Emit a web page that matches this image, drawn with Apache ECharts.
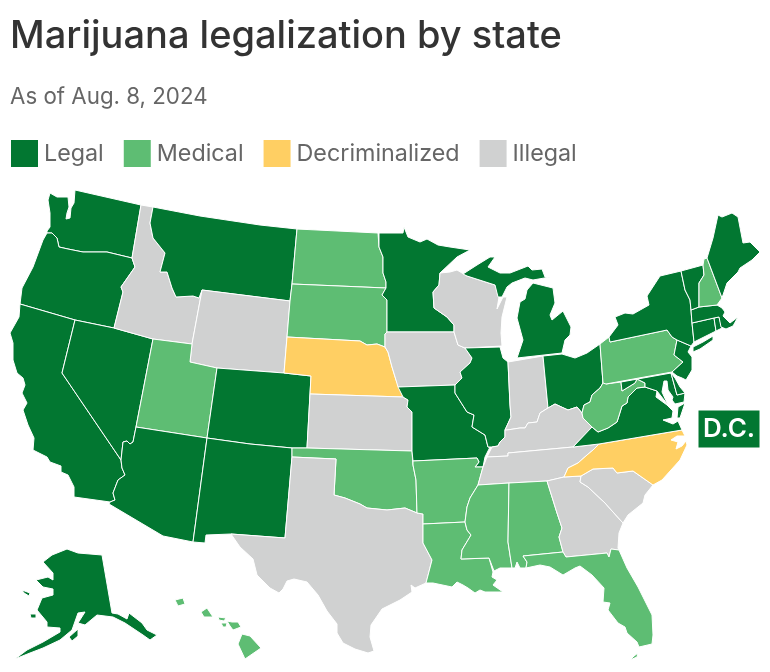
<!DOCTYPE html>
<html lang="en">
<head>
<meta charset="UTF-8">
<title>Marijuana legalization by state</title>
<script src="https://cdn.jsdelivr.net/npm/echarts@6/dist/echarts.min.js"></script>
<style>
  html, body { margin: 0; padding: 0; background: #fff; }
  #chart { width: 770px; height: 672px; }
</style>
</head>
<body>
<div id="chart"></div>
<script>
// status of each state
var legalStates = ['AK','AZ','CA','CO','CT','DE','IL','ME','MD','MA','MI','MN','MO','MT','NV','NJ','NM','NY','OH','OR','RI','VT','VA','WA','D.C.'];
var medicalStates = ['AL','AR','FL','HI','LA','MS','NH','ND','OK','PA','SD','UT','WV'];
var decrimStates = ['NE','NC'];
var illegalStates = ['GA','ID','IN','IA','KS','KY','SC','TN','TX','WI','WY'];
var statusLabels = ['Legal','Medical','Decriminalized','Illegal'];
var statusColors = ['#027731','#5ebd73','#ffcf63','#d0d1d1'];

// state outlines traced on a 770x672 sheet, "x,y" pairs, one string per part
var outlines = {
  WA: ['50,193 57,197 68,197 69,207 67,213 66,219 70,218 71,208 74,203 75,190 141,205 132,258 107,252 83,252 68,249 59,247 57,238 52,233 47,233 47,231 50,227 50,213 48,200'],
  OR: ['47,233 52,233 57,238 59,247 68,249 83,252 107,252 132,258 135,267 121,287 123,292 114,328 75,320 20,304 22,288 33,267 43,240'],
  CA: ['20,304 75,320 62,373 121,460 122,468 125,475 118,480 113,493 115,500 110,502 74,497 74,487 68,475 61,472 61,466 50,462 47,457 33,450 34,438 28,425 23,410 27,403 22,393 25,385 23,378 17,373 13,360 13,343 10,333 19,317'],
  NV: ['75,320 114,328 153,339 136,427 133,442 130,444 127,441 123,442 121,460 62,373'],
  ID: ['141,205 153,207 150,223 153,238 165,253 160,272 167,272 172,288 176,297 193,296 199,298 202,290 192,344 153,339 114,328 123,292 121,287 135,267 132,258'],
  MT: ['153,207 200,216 260,225 297,229 292,284 290,301 202,290 199,298 193,296 176,297 172,288 167,272 160,272 165,253 153,238 150,223'],
  WY: ['202,290 290,301 287,337 284,373 217,368 190,362 192,344'],
  UT: ['153,339 192,344 190,362 217,368 207,438 136,427'],
  CO: ['217,368 284,373 311,376 310,394 307,448 292,448 250,444 207,438'],
  AZ: ['136,427 207,438 193,542 163,536 109,504 110,502 115,500 113,493 118,480 125,475 122,468 121,460 123,442 127,441 130,444 133,442'],
  NM: ['207,438 250,444 292,448 292,457 285,538 231,534 206,535 205,543 193,542'],
  ND: ['297,229 378,233 379,247 383,257 383,273 386,282 386,288 292,284'],
  SD: ['292,284 386,288 382,295 387,300 387,332 385,334 385,347 377,344 367,345 360,341 287,337 290,301'],
  NE: ['287,337 360,341 367,345 377,344 385,347 388,352 392,367 396,380 403,397 310,394 311,376 284,373'],
  KS: ['310,394 403,397 408,400 407,407 412,412 412,451 307,448'],
  OK: ['292,448 307,448 412,451 413,465 416,480 417,513 405,508 387,510 367,508 360,504 345,498 334,495 336,459 292,457'],
  TX: ['292,457 336,459 334,495 345,498 360,504 367,508 387,510 405,508 417,513 423,514 423,543 432,560 426,583 415,588 411,585 412,592 400,600 382,609 371,625 370,637 374,651 368,653 355,649 343,643 337,633 337,624 327,611 318,595 307,582 294,579 287,581 283,589 279,593 270,588 257,575 253,559 240,547 231,534 285,538'],
  MN: ['379,233 403,233 404,227 408,237 420,242 427,239 438,245 450,247 470,250 457,257 440,273 439,285 433,292 434,308 447,317 454,325 454,332 387,332 387,300 382,295 386,288 386,282 383,273 383,257 379,247'],
  IA: ['387,332 454,332 458,345 465,348 472,358 470,363 460,372 462,378 455,385 398,387 396,380 392,367 388,352 385,347 385,334'],
  MO: ['398,387 455,385 455,393 467,412 474,415 472,427 485,435 488,447 490,447 485,457 483,467 475,467 479,462 477,458 413,461 412,451 412,412 407,407 408,400 403,397'],
  AR: ['413,461 477,458 479,462 475,467 483,467 478,485 470,498 467,507 465,522 423,524 423,514 417,513 416,480 413,465'],
  LA: ['423,524 465,522 467,530 471,535 462,550 461,559 489,558 493,572 492,577 497,580 493,585 503,592 485,592 480,590 475,593 468,588 463,585 457,582 452,587 433,583 426,583 432,560 423,543'],
  WI: ['440,273 450,272 457,270 467,276 495,285 499,297 497,309 503,297 507,297 502,317 501,333 502,346 465,348 458,345 454,332 454,325 447,317 434,308 433,292 439,285'],
  IL: ['465,348 500,347 503,358 508,362 510,405 511,417 505,430 505,437 500,442 498,446 492,447 488,447 485,435 472,427 474,415 467,412 455,393 455,385 462,378 460,372 470,363 472,358'],
  IN: ['508,362 543,356 548,408 540,413 537,422 528,423 525,428 520,428 507,430 505,430 511,417 510,405'],
  MI: ['463,274 477,265 490,257 495,257 488,267 500,273 510,273 528,266 532,270 542,269 545,277 550,277 533,280 525,278 512,283 507,287 502,297 498,297 495,285 467,276',
       '533,283 553,288 555,303 550,315 552,320 563,311 571,327 570,335 565,340 562,353 517,358 523,340 517,318 520,302 525,299 527,290'],
  OH: ['543,356 562,354 575,358 587,353 600,344 603,383 600,388 592,395 590,402 584,405 582,413 577,407 568,410 555,404 548,408'],
  KY: ['548,408 555,404 568,410 577,407 582,413 583,418 592,427 573,447 508,453 508,456 487,457 492,447 498,446 500,442 505,437 505,430 507,430 520,428 525,428 528,423 537,422 540,413'],
  TN: ['487,457 508,456 508,453 573,447 599,444 593,450 587,455 578,463 568,468 564,477 547,481 509,483 478,485 483,467'],
  MS: ['478,485 509,483 508,542 512,568 500,568 494,571 493,572 489,558 461,559 462,550 471,535 467,530 465,522 467,507 470,498'],
  AL: ['509,483 547,481 557,513 562,528 559,537 563,552 523,556 527,562 526,568 520,568 517,562 515,568 512,568 508,542'],
  GA: ['547,481 564,477 581,476 580,482 588,487 605,503 613,512 623,523 619,533 618,548 619,550 611,549 609,557 607,553 566,557 563,552 559,537 562,528 557,513'],
  FL: ['523,556 563,552 566,557 607,553 609,557 611,549 619,550 627,568 638,587 652,615 653,635 652,644 639,647 637,642 627,633 625,627 618,623 608,610 610,603 603,602 604,588 592,575 580,566 575,568 563,575 550,567 540,565 526,568 527,562',
       '630,660 634,656 638,653 637,657'],
  SC: ['581,476 593,469 613,468 617,473 633,471 653,485 645,495 643,503 628,515 623,523 613,512 605,503 588,487 580,482'],
  NC: ['564,477 568,468 578,463 587,455 593,450 599,444 682,430 685,436 677,436 671,440 678,442 676,449 682,446 686,441 687,445 680,460 662,480 653,485 633,471 617,473 613,468 593,469 581,476'],
  VA: ['573,447 592,427 598,432 608,428 617,422 622,406 627,403 628,397 637,388 645,387 657,391 656,397 667,405 673,411 672,418 663,420 673,424 678,421 682,430 599,444',
       '685,403 680,418 677,418 678,407'],
  WV: ['603,383 604,371 606,384 621,382 622,391 635,383 637,379 645,383 645,387 637,388 628,397 627,403 622,406 617,422 608,428 598,432 592,427 583,418 582,413 584,405 590,402 592,395 600,388'],
  MD: ['621,382 671,373 677,395 685,393 684,402 675,404 672,400 673,397 668,390 667,381 664,381 662,392 668,405 657,391 645,387 645,383 637,379 635,383 622,391'],
  DE: ['671,373 675,378 680,387 685,393 677,395'],
  PA: ['600,344 609,337 610,342 667,330 672,337 677,340 674,355 683,362 672,372 671,373 606,384 603,383'],
  NJ: ['677,340 691,346 688,352 692,357 692,370 686,380 682,378 677,376 672,372 683,362 674,355'],
  NY: ['610,342 609,337 618,325 615,317 625,313 633,314 649,305 647,296 660,276 681,271 685,290 690,300 691,310 692,323 694,342 691,346 677,340 672,337 667,330',
       '693,347 703,342 713,336 713,340 700,349 693,352'],
  CT: ['692,323 714,318 716,331 694,342'],
  RI: ['714,318 719,317 722,328 716,331'],
  MA: ['691,310 699,307 717,305 722,308 725,312 723,316 730,323 738,317 733,326 726,329 721,327 719,317 714,318 692,323'],
  VT: ['681,271 703,265 704,275 699,283 699,307 691,310 690,300 685,290'],
  NH: ['704,259 707,258 722,298 717,305 699,307 699,283 704,275 703,265'],
  ME: ['707,258 713,238 718,215 722,217 732,213 738,217 743,243 750,242 760,252 752,260 740,268 738,272 727,283 723,295 722,298'],
  AK: ['43,562 52,555 67,549 78,553 102,555 112,613 118,614 127,619 129,613 142,623 147,630 157,635 150,640 143,635 125,623 113,617 97,615 85,625 78,623 85,612 78,613 72,630 60,640 43,648 30,653 15,659 27,650 43,642 60,632 60,628 47,627 47,622 37,610 42,598 53,595 53,589 43,587 36,580 48,577 53,580 53,573',
       '69,637 78,629 78,636 72,641', '22,590 30,593 29,596 24,593', '30,614 36,614 36,618 31,618'],
  HI: ['175,600 183,598 185,604 178,606', '201,612 207,608 213,617 204,617', '218,617 226,618 224,621 219,620', '221,623 227,623 226,627 223,627', '227,621 232,622 238,622 241,627 233,630 230,626', '242,634 250,636 261,648 245,659 238,644'],
  'D.C.': ['698,410 760,410 760,448 698,448']
};

function parseRing(str) {
  // sheet y runs down, map y runs up
  var ring = str.split(' ').map(function (p) {
    var xy = p.split(',');
    return [+xy[0], -xy[1]];
  });
  ring.push(ring[0]);
  return ring;
}

var features = Object.keys(outlines).map(function (name) {
  return {
    type: 'Feature',
    properties: { name: name },
    geometry: {
      type: 'MultiPolygon',
      coordinates: outlines[name].map(function (s) { return [parseRing(s)]; })
    }
  };
});
echarts.registerMap('usStates', { type: 'FeatureCollection', features: features });

var statusGroups = [legalStates, medicalStates, decrimStates, illegalStates];
var mapData = [];
statusGroups.forEach(function (group, i) {
  group.forEach(function (name) {
    var item = { name: name, value: i };
    if (name === 'D.C.') {
      item.label = { show: true, color: '#fff', fontSize: 26, fontWeight: 600, fontFamily: 'Inter' };
    }
    mapData.push(item);
  });
});

var chart = echarts.init(document.getElementById('chart'), null, { renderer: 'canvas' });
chart.setOption({
  animation: false,
  title: [
    {
      text: 'Marijuana legalization by state',
      left: 5, top: 13,
      textStyle: { fontFamily: 'Inter', fontWeight: 500, fontSize: 38, color: '#333333' }
    },
    {
      text: 'As of Aug. 8, 2024',
      left: 5, top: 81,
      textStyle: { fontFamily: 'Inter', fontWeight: 400, fontSize: 22.3, color: '#666666' }
    }
  ],
  visualMap: {
    type: 'piecewise',
    orient: 'horizontal',
    left: -4, top: 125,
    itemWidth: 27, itemHeight: 27,
    itemGap: 20, textGap: 6,
    itemSymbol: 'rect',
    selectedMode: false,
    hoverLink: false,
    seriesIndex: 0,
    textStyle: { fontFamily: 'Inter', fontSize: 23.3, color: '#666666' },
    pieces: statusLabels.map(function (label, i) {
      return { value: i, label: label, color: statusColors[i] };
    })
  },
  series: [{
    type: 'map',
    map: 'usStates',
    silent: true,
    aspectScale: 1,
    roam: false,
    boundingCoords: [[0, 0], [770, -672]],
    left: 0, top: 0, right: 0, bottom: 0,
    label: { show: false },
    itemStyle: { borderColor: '#ffffff', borderWidth: 1 },
    emphasis: { disabled: true },
    select: { disabled: true },
    data: mapData
  }]
});
</script>
</body>
</html>
